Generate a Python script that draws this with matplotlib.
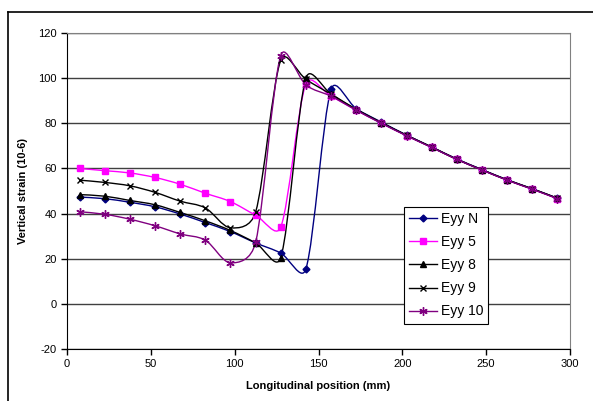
import numpy as np
import matplotlib
matplotlib.use("Agg")
import matplotlib.pyplot as plt
from matplotlib.path import Path
from matplotlib.patches import PathPatch
from matplotlib.lines import Line2D

plt.rcParams["font.family"] = ["Liberation Sans", "DejaVu Sans"]
plt.rcParams["axes.unicode_minus"] = False

# positions along the specimen (mm)
pos = [7.5, 22.5, 37.5, 52.5, 67.5, 82.5, 97.5, 112.5, 127.5, 142.5,
       157.5, 172.5, 187.5, 202.5, 217.5, 232.5, 247.5, 262.5, 277.5, 292.5]

eyy_n = [47.3, 46.6, 45.0, 43.0, 39.8, 36.0, 32.0, 27.0, 22.5, 15.5,
         95.0, 86.5, 80.5, 74.8, 69.5, 64.2, 59.5, 55.0, 51.0, 46.8]
eyy_5 = [60.0, 59.0, 58.0, 56.0, 53.0, 49.0, 45.3, 39.3, 34.0, 97.5,
         92.0, 85.8, 80.0, 74.5, 69.3, 64.0, 59.3, 54.8, 50.8, 46.6]
eyy_8 = [48.4, 47.7, 45.8, 43.9, 40.5, 36.8, 32.5, 27.0, 20.5, 100.0,
         93.0, 86.2, 80.3, 74.7, 69.5, 64.1, 59.4, 54.9, 51.0, 46.8]
eyy_9 = [54.8, 53.8, 52.3, 49.4, 45.5, 42.5, 33.7, 40.7, 108.0, 99.5,
         92.8, 86.0, 80.2, 74.6, 69.4, 64.0, 59.4, 54.9, 50.9, 46.7]
eyy_10 = [40.8, 39.7, 37.5, 34.6, 31.0, 28.2, 18.2, 27.3, 110.0, 97.0,
          92.0, 85.8, 80.0, 74.5, 69.3, 64.0, 59.3, 54.8, 50.8, 46.6]

labels = ["Eyy N", "Eyy 5", "Eyy 8", "Eyy 9", "Eyy 10"]
colors = ["#000080", "#FF00FF", "#000000", "#000000", "#800080"]
markers = ["D", "s", "^", "x", (6, 2, 0)]
msizes = [3.5, 5, 5, 5, 6]

# pixel scale of the plot area, used so the smoothing behaves like on screen
SX = 503 / 300.0
SY = 316 / 140.0


def smooth_path(x, y):
    # excel-like smoothed line: cubic bezier, tangents shortened next to short segments
    px = np.array(x) * SX
    py = np.array(y) * SY
    n = len(px)
    seg = np.hypot(np.diff(px), np.diff(py))
    verts = [(x[0], y[0])]
    codes = [Path.MOVETO]
    for i in range(n - 1):
        a = max(i - 1, 0)
        b = min(i + 2, n - 1)
        l_prev = seg[i - 1] if i > 0 else seg[i]
        l_next = seg[i + 1] if i + 1 < n - 1 else seg[i]
        f1 = min(1.0, np.sqrt(2 * seg[i] / (l_prev + seg[i])))
        f2 = min(1.0, np.sqrt(2 * seg[i] / (l_next + seg[i])))
        c1x = px[i] + (px[i + 1] - px[a]) / 6 * f1
        c1y = py[i] + (py[i + 1] - py[a]) / 6 * f1
        c2x = px[i + 1] - (px[b] - px[i]) / 6 * f2
        c2y = py[i + 1] - (py[b] - py[i]) / 6 * f2
        verts += [(c1x / SX, c1y / SY), (c2x / SX, c2y / SY), (x[i + 1], y[i + 1])]
        codes += [Path.CURVE4] * 3
    return Path(verts, codes)


fig = plt.figure(figsize=(5.93, 4.01), dpi=100)
ax = fig.add_axes([67 / 593, 1 - 349 / 401, 503 / 593, 316 / 401])

# outer chart frame (cropped: only left and top edges show)
fig.add_artist(Line2D([8 / 593, 8 / 593], [0, 1 - 12 / 401], color="black", lw=1.2))
fig.add_artist(Line2D([8 / 593, 1], [1 - 12 / 401, 1 - 12 / 401], color="black", lw=1.2))

series = [eyy_n, eyy_5, eyy_8, eyy_9, eyy_10]
handles = []
for vals, lab, c, m, ms in zip(series, labels, colors, markers, msizes):
    ax.add_patch(PathPatch(smooth_path(pos, vals), facecolor="none",
                           edgecolor=c, lw=1.0, zorder=3))
    ax.plot(pos, vals, linestyle="none", marker=m, color=c, markersize=ms,
            markeredgewidth=1.0, zorder=4)
    handles.append(Line2D([], [], color=c, marker=m, markersize=ms, lw=1.0))

ax.set_xlim(0, 300)
ax.set_ylim(-20, 120)
ax.set_xticks([0, 50, 100, 150, 200, 250, 300])
ax.set_yticks([-20, 0, 20, 40, 60, 80, 100, 120])
ax.yaxis.grid(True, color="#404040", lw=1.0)
ax.set_axisbelow(True)
ax.tick_params(labelsize=8, direction="out", length=4, width=1, colors="black")
ax.spines["left"].set_color("black")
ax.spines["bottom"].set_color("black")
ax.spines["top"].set_color("#808080")
ax.spines["right"].set_color("#808080")

ax.set_xlabel("Longitudinal position (mm)", fontsize=8, fontweight="bold", labelpad=8)
ax.set_ylabel("Vertical strain (10-6)", fontsize=8, fontweight="bold", labelpad=7)

leg = ax.legend(handles, labels, loc="upper left",
                bbox_to_anchor=(404 / 593, 1 - 207 / 401),
                bbox_transform=fig.transFigure, fontsize=10, frameon=True,
                fancybox=False, edgecolor="black", framealpha=1,
                handlelength=2.0, handletextpad=0.25, labelspacing=0.65,
                borderpad=0.38, borderaxespad=0)
leg.get_frame().set_linewidth(0.8)

fig.savefig("out.png", dpi=100)
